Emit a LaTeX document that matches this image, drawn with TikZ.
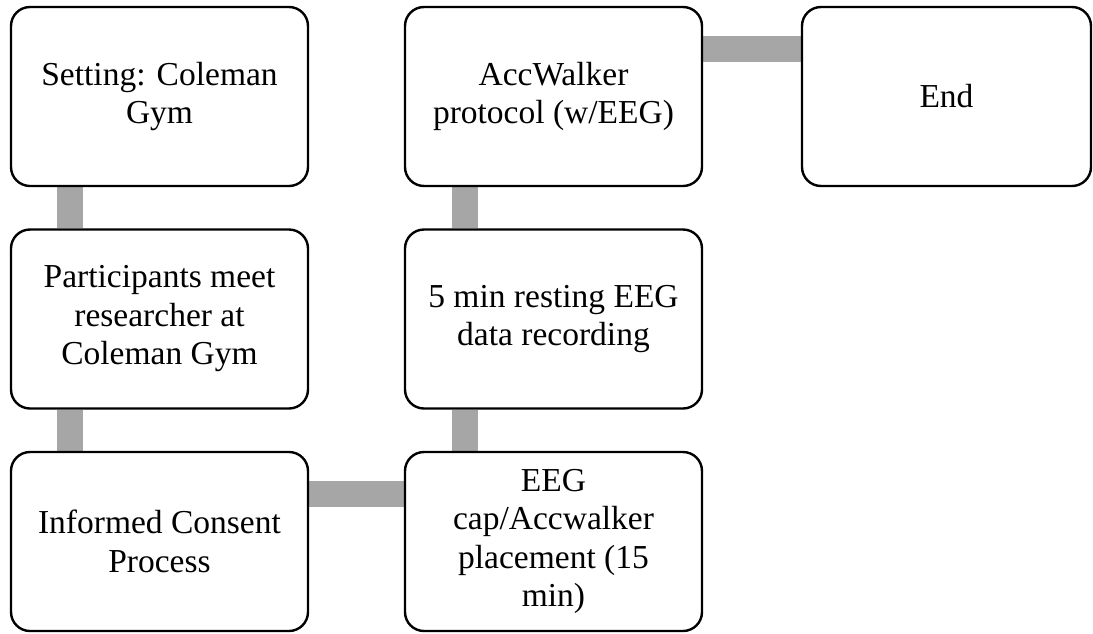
\documentclass[tikz,border=0pt]{standalone}
\usepackage{fontspec}
\setmainfont{Liberation Serif}
\usetikzlibrary{calc,backgrounds}
\definecolor{bargray}{HTML}{A6A6A6}
\tikzset{
  stepbox/.style={draw=black, line width=2.4pt, rounded corners=19pt, fill=white,
    minimum width=297pt, minimum height=179pt, inner sep=0pt, align=center,
    font=\fontsize{33.5}{38.5}\selectfont},
  bar/.style={draw=bargray, line width=26pt}
}
\begin{document}
\begin{tikzpicture}[x=1pt,y=-1pt]
\useasboundingbox (0,0) rectangle (1093,633);
\node[stepbox] (b1) at (159.5,96.5) {Setting: Coleman\\Gym};
\node[stepbox] (b2) at (159.5,319) {Participants meet\\researcher at\\Coleman Gym};
\node[stepbox] (b3) at (159.5,541.5) {Informed Consent\\Process};
\node[stepbox] (b4) at (553.5,541.5) {EEG\\cap/Accwalker\\placement (15\\min)};
\node[stepbox] (b5) at (553.5,319) {5 min resting EEG\\data recording};
\node[stepbox] (b6) at (553.5,96.5) {AccWalker\\protocol (w/EEG)};
\node[stepbox, minimum width=289pt] (b7) at (946.5,96.5) {End};
\begin{scope}[on background layer]
\draw[bar] ($(b1.south west)+(60,0)$) -- ($(b2.north west)+(60,0)$);
\draw[bar] ($(b2.south west)+(60,0)$) -- ($(b3.north west)+(60,0)$);
\draw[bar] ($(b3.north east)+(0,43.5)$) -- ($(b4.north west)+(0,43.5)$);
\draw[bar] ($(b4.north west)+(61,0)$) -- ($(b5.south west)+(61,0)$);
\draw[bar] ($(b5.north west)+(61,0)$) -- ($(b6.south west)+(61,0)$);
\draw[bar] ($(b6.north east)+(0,43.5)$) -- ($(b7.north west)+(0,43.5)$);
\end{scope}
\end{tikzpicture}
\end{document}
